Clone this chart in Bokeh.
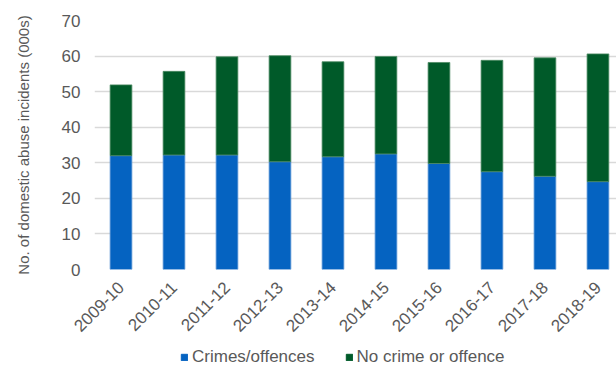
from bokeh.plotting import figure
from bokeh.models import ColumnDataSource, Legend, LegendItem, FixedTicker, Range1d
from bokeh.layouts import column
from bokeh.embed import file_html
from bokeh.resources import INLINE
import math

years = ["2009-10", "2010-11", "2011-12", "2012-13", "2013-14",
         "2014-15", "2015-16", "2016-17", "2017-18", "2018-19"]
crimes = [32.0, 32.2, 32.2, 30.3, 31.7, 32.5, 29.8, 27.5, 26.2, 24.7]
totals = [51.9, 55.7, 59.8, 60.1, 58.4, 59.9, 58.2, 58.8, 59.5, 60.6]
no_crime = [round(t - c, 1) for t, c in zip(totals, crimes)]
y_ticks = [0, 10, 20, 30, 40, 50, 60, 70]
series_names = ["Crimes/offences", "No crime or offence"]

BLUE = "#0563C1"
GREEN = "#005A29"
GREY = "#595959"
FONT = "Liberation Sans"

xs = list(range(len(years)))
src = ColumnDataSource(dict(x=xs, crimes=crimes, nocrime=no_crime))

p = figure(width=616, height=343, output_backend="svg", toolbar_location=None,
           x_range=Range1d(-0.5, 9.35), y_range=Range1d(0, 70),
           min_border_left=94, min_border_right=0, min_border_top=20,
           min_border_bottom=74)
p.outline_line_color = None
p.background_fill_color = "white"

r = p.vbar_stack(["crimes", "nocrime"], x="x", width=0.41, source=src,
                 fill_color=[BLUE, GREEN], line_color=["#5a95d6", "#4d8a63"],
                 line_width=0.8)

p.xaxis.ticker = FixedTicker(ticks=xs)
p.xaxis.major_label_overrides = {i: y for i, y in enumerate(years)}
p.xaxis.major_label_orientation = math.pi / 4
p.yaxis.ticker = FixedTicker(ticks=y_ticks)
p.xgrid.grid_line_color = None
p.ygrid.grid_line_color = "#d9d9d9"
p.ygrid.grid_line_width = 1.3
p.ygrid.ticker = FixedTicker(ticks=y_ticks)

for ax in (p.xaxis[0], p.yaxis[0]):
    ax.axis_line_color = None
    ax.major_tick_line_color = None
    ax.minor_tick_line_color = None
    ax.major_tick_out = 0
    ax.major_tick_in = 0
    ax.major_label_text_font = FONT
    ax.major_label_text_font_size = "17px"
    ax.major_label_text_color = GREY

p.yaxis.major_label_standoff = 14
p.xaxis.major_label_standoff = 15
p.yaxis.axis_label = "No. of domestic abuse incidents (000s)"
p.yaxis.axis_label_text_font = FONT
p.yaxis.axis_label_text_font_size = "15px"
p.yaxis.axis_label_text_font_style = "normal"
p.yaxis.axis_label_text_color = GREY
p.yaxis.axis_label_standoff = 27

# legend strip below the chart
lg = figure(width=616, height=22, output_backend="svg", toolbar_location=None,
            x_range=Range1d(0, 1), y_range=Range1d(0, 1),
            min_border=0, min_border_left=0, min_border_right=0,
            min_border_top=0, min_border_bottom=0)
lg.axis.visible = False
lg.grid.visible = False
lg.outline_line_color = None
d1 = lg.vbar(x=[5], top=[5], width=0.1, fill_color=BLUE, line_color=BLUE)
d2 = lg.vbar(x=[5], top=[5], width=0.1, fill_color=GREEN, line_color=GREEN)
legend = Legend(items=[LegendItem(label=series_names[0], renderers=[d1]),
                       LegendItem(label=series_names[1], renderers=[d2])],
                orientation="horizontal", location=(86, -2),
                label_text_font=FONT, label_text_font_size="17px",
                label_text_color=GREY, glyph_width=8, glyph_height=8,
                label_standoff=4, spacing=30, padding=0, margin=0,
                border_line_color=None, background_fill_alpha=0)
lg.add_layout(legend, "center")

layout = column(p, lg, spacing=0)
open("out.html", "w").write(file_html(layout, INLINE))
